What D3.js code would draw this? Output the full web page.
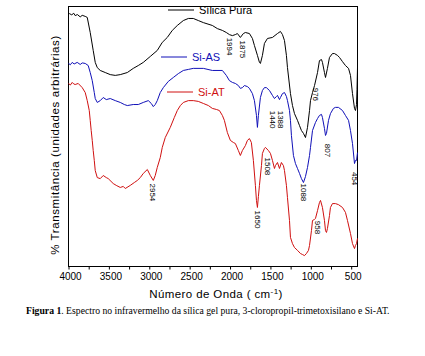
<!DOCTYPE html>
<html>
<head>
<meta charset="utf-8">
<script src="https://cdn.jsdelivr.net/npm/d3@7"></script>
<style>
  html, body { margin: 0; padding: 0; background: #fff; }
  svg { display: block; }
</style>
</head>
<body>
<svg id="chart" width="425" height="356"></svg>
<script>
// ---- data (wavenumber cm-1, transmittance in arbitrary units) ----
const silicaWn = [3991,3960,3935,3917,3890,3855,3830,3793,3768,3731,3694,3669,3644,3607,3545,3483,3421,3359,3272,3198,3136,3074,2987,2901,2839,2777,2715,2653,2578,2516,2455,2393,2330,2219,2157,2095,2046,2008,1971,1934,1909,1872,1835,1810,1760,1723,1698,1661,1636,1624,1599,1574,1537,1475,1413,1376,1351,1326,1302,1289,1252,1227,1202,1165,1140,1116,1091,1066,1041,1016,1004,979,954,917,893,868,856,831,818,794,769,732,707,670,645,608,571,533,509,484,459,447,434,428,422];
const silicaT  = [97.3,96.8,97.4,96.5,96.9,96.0,96.6,96.2,95.8,90.0,83.1,78.5,76.5,75.4,74.6,73.8,73.5,73.8,74.6,76.2,77.3,78.5,80.8,83.1,86.2,88.1,90.8,92.7,94.6,95.4,95.4,94.6,93.8,92.7,91.5,90.8,90.0,89.2,88.8,89.2,89.6,88.1,89.6,90.0,89.6,87.7,85.0,81.2,78.5,78.1,81.2,85.8,87.7,88.1,89.6,90.4,89.2,86.9,81.2,76.5,66.5,61.9,58.8,56.2,54.2,52.3,51.2,49.6,53.5,60.0,63.8,66.9,69.6,74.6,79.2,79.6,78.5,74.6,72.7,76.2,80.4,81.9,81.9,81.2,80.4,78.8,77.3,76.2,73.5,66.5,60.8,60.0,62.3,68.0,76.5];

const siASWn = [4000,3977,3954,3930,3892,3855,3830,3793,3756,3731,3706,3681,3669,3644,3607,3570,3532,3483,3421,3359,3309,3272,3198,3136,3074,3012,2975,2950,2926,2901,2864,2826,2764,2702,2640,2578,2516,2455,2330,2219,2095,2046,2008,1971,1934,1897,1872,1847,1822,1785,1760,1723,1698,1673,1661,1649,1624,1599,1574,1550,1512,1475,1450,1425,1413,1388,1376,1351,1326,1302,1289,1264,1252,1240,1215,1190,1165,1140,1116,1091,1066,1041,1016,1004,979,942,917,893,868,856,831,818,806,781,757,720,695,658,608,571,533,509,484,459,447,434,422];
const siAST  = [78.1,77.6,78.5,77.9,78.5,77.7,78.3,78.1,77.3,74.6,71.5,66.9,64.6,63.1,63.8,65.0,64.2,64.6,63.8,63.1,62.3,61.9,62.3,62.3,63.1,63.8,62.7,61.5,62.3,63.8,66.9,68.8,71.2,72.7,74.2,75.4,75.8,76.2,76.2,75.4,75.4,73.5,71.5,70.8,70.4,69.6,68.5,68.8,69.6,69.2,68.5,66.5,63.8,58.1,53.5,58.1,65.0,67.7,68.8,68.8,67.7,65.8,64.6,65.4,65.8,64.2,65.0,66.5,66.9,65.4,63.8,60.0,56.2,50.4,42.7,39.6,37.7,35.8,33.8,32.3,34.6,38.1,42.7,45.8,52.3,55.4,56.9,58.1,58.5,57.3,53.1,50.4,51.2,56.2,58.8,60.8,61.2,61.2,60.0,58.1,56.2,52.3,47.3,39.6,40.8,40.8,43.8];

const siATWn = [4000,3977,3954,3935,3917,3880,3830,3793,3768,3743,3731,3719,3706,3694,3681,3669,3644,3607,3570,3532,3508,3446,3409,3359,3322,3297,3235,3185,3148,3111,3074,3024,2987,2950,2926,2901,2864,2839,2802,2740,2690,2653,2615,2578,2516,2455,2393,2330,2268,2219,2169,2132,2095,2070,2033,1996,1959,1934,1897,1872,1847,1810,1785,1760,1736,1711,1686,1673,1661,1649,1636,1611,1599,1574,1562,1525,1500,1475,1450,1438,1413,1388,1364,1339,1326,1302,1289,1264,1252,1227,1202,1165,1128,1103,1078,1054,1029,1016,992,979,954,942,917,893,880,856,831,818,806,794,769,757,732,695,658,608,571,546,509,484,459,447,434,422];
const siATT  = [70.4,69.8,70.8,70.2,70.0,70.4,68.8,66.9,63.8,60.0,56.2,52.3,48.5,44.6,40.8,36.9,34.2,33.8,35.0,34.2,33.8,31.9,31.2,30.4,30.8,30.0,31.2,32.3,33.1,34.2,35.8,37.3,35.0,33.1,35.0,38.1,41.9,45.8,49.6,53.5,57.3,60.0,61.9,63.1,63.8,63.8,63.5,62.7,61.9,60.8,60.4,60.0,58.1,56.2,51.5,48.5,47.7,47.3,44.6,42.7,44.6,46.5,48.5,49.2,47.7,40.8,31.2,25.4,22.7,26.9,31.2,38.8,43.5,45.4,45.8,44.6,43.5,40.8,37.7,38.8,40.0,37.7,40.0,38.8,36.9,31.2,26.5,17.7,11.2,8.8,7.3,6.2,5.0,4.6,4.2,5.0,6.2,8.1,13.8,17.7,18.1,18.5,21.5,24.6,25.4,22.7,17.7,13.8,13.1,14.6,19.6,22.7,24.2,24.2,23.8,22.7,20.8,17.7,12.7,8.8,6.9,8.1,8.8,10.8];

const seriesNames  = ["Sílica Pura", "Si-AS", "Si-AT"];
const seriesColors = ["#000000", "#1010b8", "#d01010"];

const xTickValues = [4000,3750,3500,3250,3000,2750,2500,2250,2000,1750,1500,1250,1000,750,500];
const xTickLabels = ["4000","","3500","","3000","","2500","","2000","","1500","","1000","","500"];

const peakLabels = ["2954","1994","1875","1650","1508","1440","1388","1088","976","958","807","454"];
const peakWn     = [2950,2006,1845,1661,1537,1475,1376,1091,942,917,794,459];
const peakT      = [28.5,84.6,83.5,18.1,38.5,56.5,56.5,28.5,66.2,15.0,44.6,33.8];

// ---- drawing ----
const svg = d3.select("#chart");
const mLeft = 68.5, mRight = 357.5, mTop = 6.5, mBottom = 266.5;

const x = d3.scaleLinear().domain([4000, 422]).range([mLeft, mRight]);
const y = d3.scaleLinear().domain([0, 100]).range([mBottom, mTop]);

// frame
svg.append("rect")
  .attr("x", mLeft).attr("y", mTop)
  .attr("width", mRight - mLeft).attr("height", mBottom - mTop)
  .attr("fill", "none").attr("stroke", "#000").attr("stroke-width", 1);

// x axis
const xAxis = d3.axisBottom(x)
  .tickValues(xTickValues)
  .tickFormat((d, i) => xTickLabels[i])
  .tickSize(3)
  .tickPadding(3);
const gx = svg.append("g").attr("transform", `translate(0,${mBottom})`).call(xAxis);
gx.select(".domain").remove();
gx.selectAll("line").attr("stroke", "#000");
gx.selectAll("text")
  .attr("font-family", "Arial, 'Liberation Sans', sans-serif")
  .attr("font-size", 10).attr("fill", "#000").attr("dx", 1.5);

// lines
const data = [
  silicaWn.map((w, i) => [w, silicaT[i]]),
  siASWn.map((w, i) => [w, siAST[i]]),
  siATWn.map((w, i) => [w, siATT[i]])
];
const line = d3.line().x(d => x(d[0])).y(d => y(d[1]));
svg.append("g").selectAll("path").data(data).join("path")
  .attr("d", line)
  .attr("fill", "none")
  .attr("stroke", (d, i) => seriesColors[i])
  .attr("stroke-width", 1);

// peak labels
svg.append("g").selectAll("text").data(peakLabels).join("text")
  .attr("transform", (d, i) => `translate(${x(peakWn[i])},${y(peakT[i])}) rotate(90)`)
  .attr("text-anchor", "middle")
  .attr("dy", "0.35em")
  .attr("font-family", "Arial, 'Liberation Sans', sans-serif")
  .attr("font-size", 8)
  .attr("fill", "#000")
  .text(d => d);

// legend
const legendX1 = [168, 161, 167];
const legendY  = [10, 57, 92];
const leg = svg.append("g").selectAll("g").data(seriesNames).join("g")
  .attr("transform", (d, i) => `translate(${legendX1[i]},${legendY[i]})`);
leg.append("line")
  .attr("x1", 0).attr("x2", 26).attr("y1", 0).attr("y2", 0)
  .attr("stroke", (d, i) => seriesColors[i]).attr("stroke-width", 1);
leg.append("text")
  .attr("x", 31).attr("y", 0).attr("dy", "0.38em")
  .attr("font-family", "Arial, 'Liberation Sans', sans-serif")
  .attr("font-size", 11)
  .attr("fill", (d, i) => seriesColors[i])
  .text(d => d);

// axis titles
svg.append("text")
  .attr("x", 216).attr("y", 298)
  .attr("text-anchor", "middle")
  .attr("font-family", "Arial, 'Liberation Sans', sans-serif")
  .attr("font-size", 11.5)
  .attr("letter-spacing", 0.4)
  .attr("fill", "#000")
  .html("Número de Onda ( cm<tspan dy='-4' font-size='8'>-1</tspan><tspan dy='4'>)</tspan>");

svg.append("text")
  .attr("transform", "translate(59,145) rotate(-90)")
  .attr("text-anchor", "middle")
  .attr("font-family", "Arial, 'Liberation Sans', sans-serif")
  .attr("font-size", 11.5)
  .attr("letter-spacing", 0.6)
  .attr("fill", "#000")
  .text("% Transmitância (unidades arbitrárias)");

// caption
const cap = svg.append("text")
  .attr("x", 26).attr("y", 314)
  .attr("font-family", "'Liberation Serif', 'Times New Roman', serif")
  .attr("font-size", 9.7)
  .attr("fill", "#000");
cap.append("tspan").attr("font-weight", "bold").text("Figura 1");
cap.append("tspan").text(". Espectro no infravermelho da sílica gel pura, 3-cloropropil-trimetoxisilano e Si-AT.");
</script>
</body>
</html>
